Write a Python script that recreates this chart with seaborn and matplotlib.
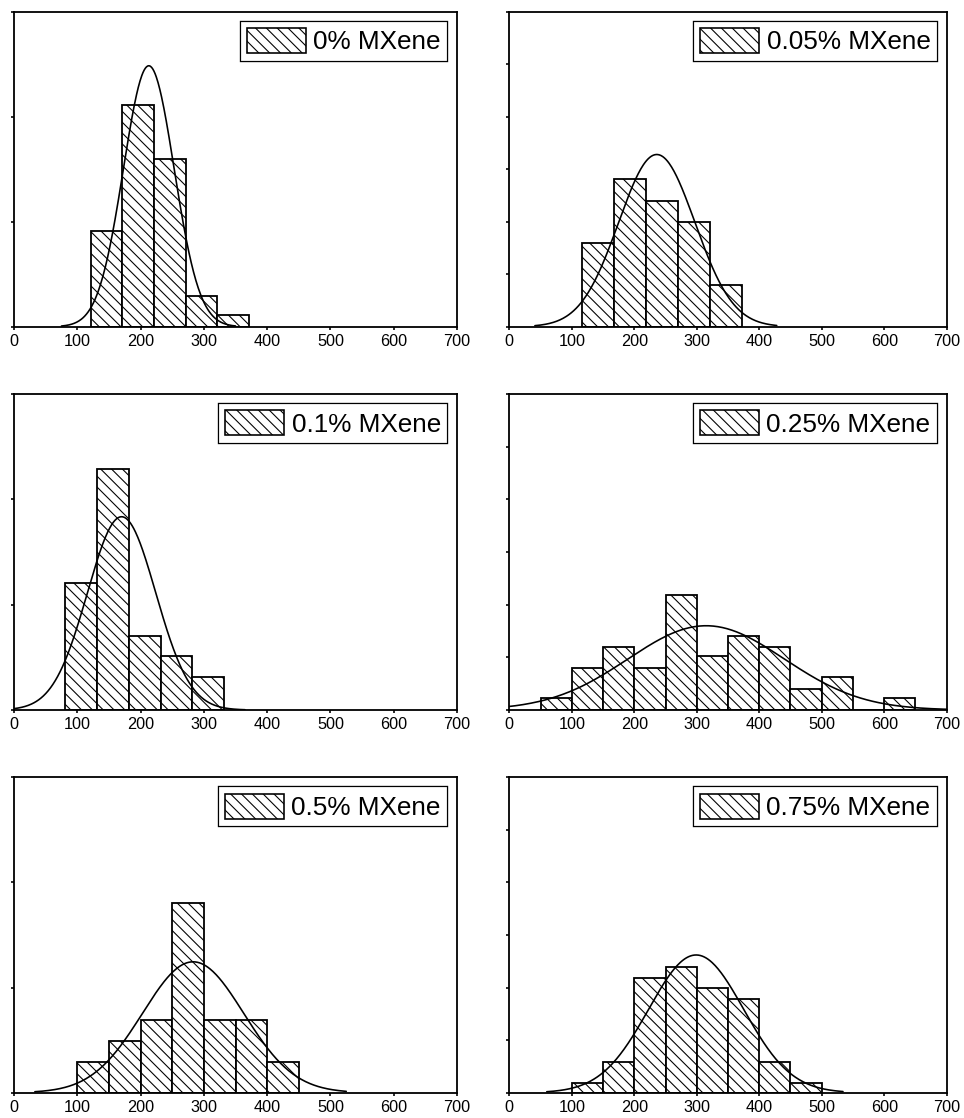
import numpy as np
import pandas as pd
import matplotlib
matplotlib.use("Agg")
import matplotlib.pyplot as plt
import matplotlib.patches as mpatches
import matplotlib.patheffects as pe
import seaborn as sns

sns.set_theme(style="ticks")
plt.rcParams['font.family'] = ['Liberation Sans', 'DejaVu Sans']
plt.rcParams['hatch.linewidth'] = 0.6
plt.rcParams['axes.edgecolor'] = 'black'
plt.rcParams['xtick.color'] = 'black'
plt.rcParams['ytick.color'] = 'black'
plt.rcParams['text.color'] = 'black'

labels = ["0% MXene", "0.05% MXene", "0.1% MXene",
          "0.25% MXene", "0.5% MXene", "0.75% MXene"]

# bin edges and frequency (%)
edges_0 = [121, 171, 221, 271, 321, 371]
freq_0 = [18.2, 42.2, 32.0, 5.8, 2.2]

edges_005 = [117, 168, 219, 270, 321, 372]
freq_005 = [15.9, 28.1, 24.0, 20.0, 7.9]

edges_01 = [80, 131, 181, 232, 281, 332]
freq_01 = [24.1, 45.8, 14.1, 10.3, 6.2]

edges_025 = [50, 100, 150, 200, 250, 300, 350, 400, 450, 500, 550, 600, 650]
freq_025 = [2.2, 8.0, 12.0, 8.0, 21.8, 10.3, 14.1, 12.0, 4.0, 6.2, 0.0, 2.2]

edges_05 = [100, 150, 200, 250, 300, 350, 400, 450]
freq_05 = [5.8, 9.8, 13.8, 36.0, 13.8, 13.8, 5.8]

edges_075 = [100, 150, 200, 250, 300, 350, 400, 450, 500]
freq_075 = [1.8, 5.8, 21.9, 24.0, 19.9, 17.8, 5.8, 1.8]

# normal fit curves: centre, sd, peak height, drawn range
fit_mu = [213, 236, 170, 315, 283, 299]
fit_sd = [40, 61, 54, 125, 80, 76]
fit_peak = [49.7, 32.8, 36.7, 16.0, 24.9, 26.2]
fit_lo = [75, 41, -10, -20, 33, 60]
fit_hi = [350, 428, 365, 720, 525, 534]

all_edges = [edges_0, edges_005, edges_01, edges_025, edges_05, edges_075]
all_freq = [freq_0, freq_005, freq_01, freq_025, freq_05, freq_075]

W, H, DPI = 964, 1118, 130
fig = plt.figure(figsize=(W / DPI, H / DPI), dpi=DPI)

# panel boxes in pixels: left, top, right, bottom
boxes = [(14, 11.7, 457, 326.7), (509.3, 11.7, 946.7, 326.7),
         (14, 394, 457, 710), (509.3, 394, 946.7, 710),
         (14, 777.3, 457, 1092.7), (509.3, 777.3, 946.7, 1092.7)]

hatch = '\\\\\\\\'

for i in range(6):
    l, t, r, b = boxes[i]
    ax = fig.add_axes([l / W, 1 - b / H, (r - l) / W, (b - t) / H])
    edges = list(all_edges[i])
    centers = [(edges[k] + edges[k + 1]) / 2 for k in range(len(edges) - 1)]
    df = pd.DataFrame({'size': centers, 'freq': all_freq[i]})
    sns.histplot(data=df, x='size', weights='freq', bins=edges, ax=ax,
                 stat='count', color='white', edgecolor='black',
                 linewidth=1.0, hatch=hatch, alpha=1)

    xs = np.linspace(fit_lo[i], fit_hi[i], 300)
    ys = fit_peak[i] * np.exp(-(xs - fit_mu[i]) ** 2 / (2 * fit_sd[i] ** 2))
    sns.lineplot(x=xs, y=ys, ax=ax, color='black', lw=0.9)

    ax.set_xlim(0, 700)
    ax.set_ylim(0, 60)
    ax.set_xticks(range(0, 701, 100))
    if i % 2 == 0:
        ax.set_yticks([0, 20, 40, 60])
    else:
        ax.set_yticks([0, 10, 20, 30, 40, 50, 60])
    ax.set_yticklabels([])
    ax.set_xlabel('')
    ax.set_ylabel('')
    ax.tick_params(axis='both', direction='out', length=1.8, width=0.9,
                   labelsize=9, pad=2)
    for s in ax.spines.values():
        s.set_visible(True)
        s.set_linewidth(1.0)
        s.set_color('black')

    handle = mpatches.Patch(facecolor='white', edgecolor='black',
                            hatch=hatch, linewidth=0.9)
    leg = ax.legend(handles=[handle], labels=[labels[i]], loc='upper right',
                    fontsize=14.5, handlelength=2.25, handleheight=1.1,
                    handletextpad=0.28, borderpad=0.2, borderaxespad=0.42,
                    fancybox=False, framealpha=1, edgecolor='black')
    leg.get_frame().set_path_effects([
        pe.Stroke(linewidth=2.4, foreground='black'),
        pe.Stroke(linewidth=1.0, foreground='white')])

fig.savefig('out.png', dpi=DPI)
